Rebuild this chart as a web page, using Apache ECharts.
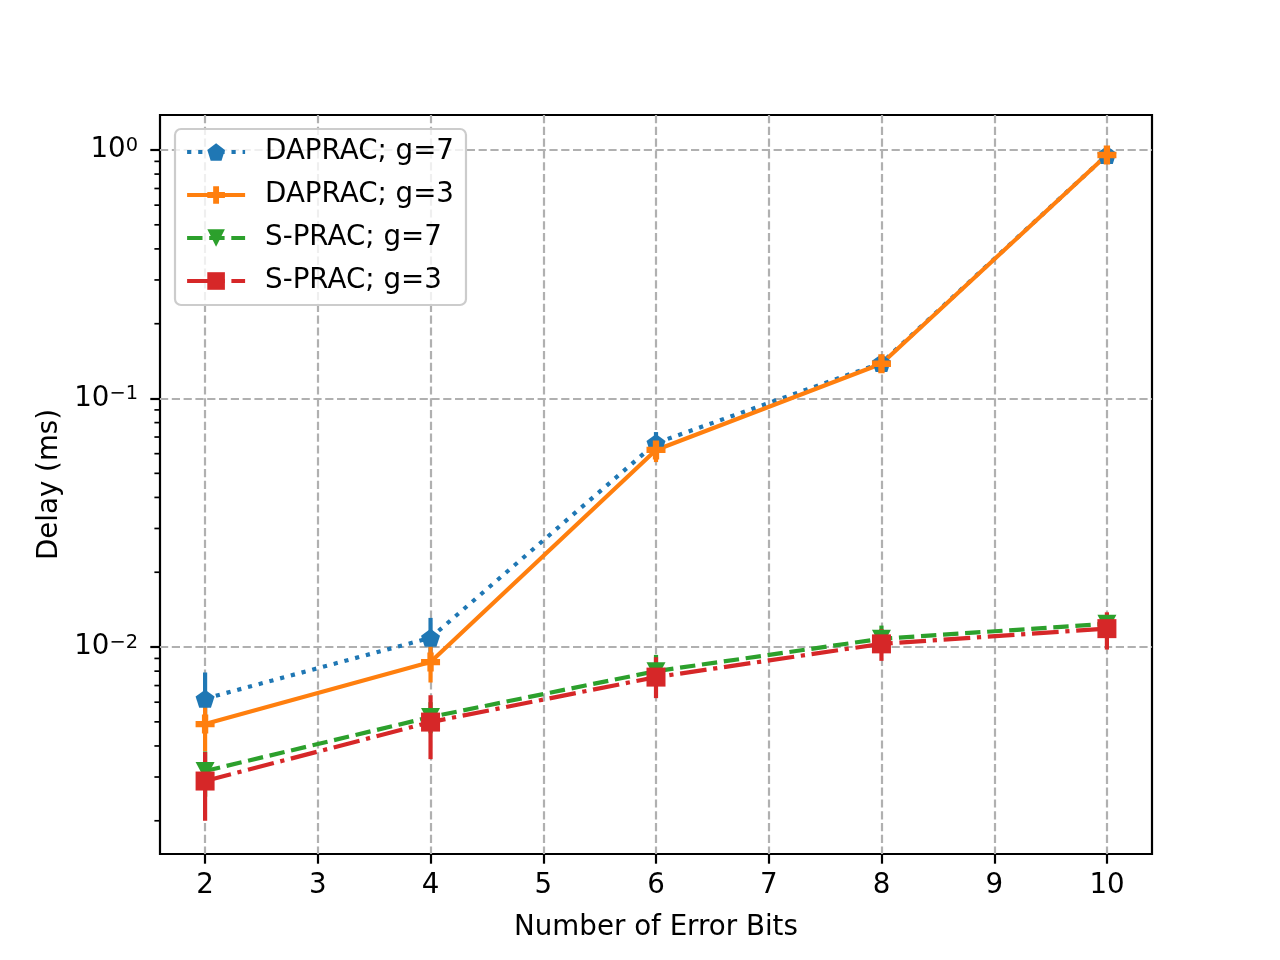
<!DOCTYPE html>
<html>
<head>
<meta charset="utf-8">
<script src="https://cdn.jsdelivr.net/npm/echarts@6/dist/echarts.min.js"></script>
<style>
  html, body { margin: 0; background: #fff; }
  #main { width: 1280px; height: 960px; }
</style>
</head>
<body>
<div id="main"></div>
<script>
// data
const errorBits = [2, 4, 6, 8, 10];

const dapracG7 = [0.0062, 0.0109, 0.0662, 0.139, 0.955];
const dapracG7Lo = [0.0046, 0.0088, 0.0595, 0.135, 0.93];
const dapracG7Hi = [0.0079, 0.0131, 0.0733, 0.143, 0.98];

const dapracG3 = [0.0049, 0.0087, 0.0621, 0.138, 0.955];
const dapracG3Lo = [0.0038, 0.0072, 0.0555, 0.134, 0.93];
const dapracG3Hi = [0.0060, 0.0102, 0.0690, 0.142, 0.98];

const spracG7 = [0.00317, 0.00523, 0.0080, 0.0108, 0.0124];
const spracG7Lo = [0.0025, 0.0045, 0.0070, 0.0097, 0.0116];
const spracG7Hi = [0.0038, 0.0060, 0.0093, 0.0122, 0.0132];

const spracG3 = [0.00289, 0.00499, 0.00757, 0.0103, 0.01186];
const spracG3Lo = [0.0020, 0.00354, 0.00623, 0.0088, 0.00977];
const spracG3Hi = [0.00378, 0.0064, 0.0091, 0.0118, 0.0138];

const names = ['DAPRAC; g=7', 'DAPRAC; g=3', 'S-PRAC; g=7', 'S-PRAC; g=3'];

// axis ranges and ticks
const xMin = 1.6, xMax = 10.4;
const yMin = 0.00147, yMax = 1.383;
const yMajorMin = 0.01, yMajorMax = 1;
const minorDecades = [0.001, 0.01, 0.1];
const minorSteps = [2, 3, 4, 5, 6, 7, 8, 9];

const FONT = 'DejaVu Sans';
const FS = 27.7;
const GRID_LINE = { show: true, lineStyle: { color: '#b0b0b0', width: 2.2, type: [8.2, 3.6] } };

// marker shapes (matplotlib p, P, v, s)
const PENTAGON = 'path://M0,-1L0.951,-0.309L0.588,0.809L-0.588,0.809L-0.951,-0.309Z';
const PLUS = 'path://M-1,-3L-1,-1L-3,-1L-3,1L-1,1L-1,3L1,3L1,1L3,1L3,-1L1,-1L1,-3Z';
const TRI_DOWN = 'path://M-1,-1L1,-1L0,1Z';

const chart = echarts.init(document.getElementById('main'));

function errorSeries(lo, hi, color) {
    return {
        type: 'custom', xAxisIndex: 0, yAxisIndex: 0, z: 1, silent: true,
        data: errorBits.map((x, i) => [x, lo[i], hi[i]]),
        encode: { x: 0, y: [1, 2] },
        renderItem: (params, api) => {
            const a = api.coord([api.value(0), api.value(1)]);
            const b = api.coord([api.value(0), api.value(2)]);
            return {
                type: 'line',
                shape: { x1: a[0], y1: a[1], x2: b[0], y2: b[1] },
                style: { stroke: color, lineWidth: 4.2 }
            };
        }
    };
}

function lineSeries(name, values, color, dash, symbol, size) {
    return {
        type: 'line', name: name, xAxisIndex: 0, yAxisIndex: 0, z: 2,
        data: errorBits.map((x, i) => [x, values[i]]),
        symbol: symbol, symbolSize: size, showAllSymbol: true,
        itemStyle: { color: color },
        lineStyle: { color: color, width: 4.2, type: dash, cap: 'butt' },
        emphasis: { disabled: true }
    };
}

const option = {
    animation: false,
    backgroundColor: '#fff',
    textStyle: { fontFamily: FONT },
    grid: [
        { left: 160, right: 128, top: 115, bottom: 106, show: true, borderColor: '#000', borderWidth: 2.2, backgroundColor: 'transparent' },
        { left: 205, right: 173, top: 115, bottom: 106 },
        { left: 160, right: 128, top: 150, bottom: 313 }
    ],
    xAxis: [
        { gridIndex: 0, type: 'value', min: xMin, max: xMax, axisLine: { show: false }, axisTick: { show: false }, axisLabel: { show: false }, splitLine: { show: false } },
        {
            gridIndex: 1, type: 'value', min: 2, max: 10, interval: 1,
            name: 'Number of Error Bits', nameLocation: 'middle', nameGap: 60,
            nameTextStyle: { fontFamily: FONT, fontSize: FS, color: '#000' },
            axisLine: { show: false },
            axisTick: { show: true, length: 9.7, lineStyle: { color: '#000', width: 2.2 } },
            axisLabel: { fontFamily: FONT, fontSize: FS, color: '#000', margin: 18 },
            splitLine: GRID_LINE
        },
        { gridIndex: 2, type: 'value', show: false }
    ],
    yAxis: [
        {
            gridIndex: 0, type: 'log', logBase: 10, min: yMin, max: yMax,
            name: 'Delay (ms)', nameLocation: 'middle', nameGap: 96,
            nameTextStyle: { fontFamily: FONT, fontSize: FS, color: '#000' },
            axisLine: { show: false }, axisTick: { show: false }, axisLabel: { show: false }, splitLine: { show: false }
        },
        { gridIndex: 1, type: 'value', show: false },
        {
            gridIndex: 2, type: 'log', logBase: 10, min: yMajorMin, max: yMajorMax,
            axisLine: { show: false },
            axisTick: { show: true, length: 9.7, lineStyle: { color: '#000', width: 2.2 } },
            axisLabel: {
                showMinLabel: true, showMaxLabel: true, margin: 22,
                fontFamily: FONT, fontSize: FS, color: '#000',
                formatter: v => {
                    const e = Math.round(Math.log10(v));
                    return '10{e|' + (e < 0 ? '\u2212' + (-e) : e) + '}';
                },
                rich: { e: { fontFamily: FONT, fontSize: 19.4, color: '#000', verticalAlign: 'top' } }
            },
            splitLine: GRID_LINE
        }
    ],
    legend: {
        orient: 'vertical', left: 175, top: 129,
        data: names, selectedMode: false,
        itemWidth: 58, itemHeight: 22, itemGap: 15,
        padding: [9, 12, 10, 10],
        lineStyle: { width: 4.2 },
        backgroundColor: 'rgba(255,255,255,0.8)',
        borderColor: '#cccccc', borderWidth: 2.2, borderRadius: 6,
        textStyle: { fontFamily: FONT, fontSize: FS, color: '#000', padding: [0, 0, 0, 15] }
    },
    series: [
        errorSeries(dapracG7Lo, dapracG7Hi, '#1f77b4'),
        errorSeries(dapracG3Lo, dapracG3Hi, '#ff7f0e'),
        errorSeries(spracG7Lo, spracG7Hi, '#2ca02c'),
        errorSeries(spracG3Lo, spracG3Hi, '#d62728'),
        lineSeries(names[0], dapracG7, '#1f77b4', [4.2, 6.9], PENTAGON, [19, 18]),
        lineSeries(names[1], dapracG3, '#ff7f0e', 'solid', PLUS, [19, 19]),
        lineSeries(names[2], spracG7, '#2ca02c', [15.4, 6.7], TRI_DOWN, [19, 18]),
        lineSeries(names[3], spracG3, '#d62728', [26.7, 6.7, 4.2, 6.7], 'rect', [19, 19])
    ]
};

chart.setOption(option);

// log minor ticks (2..9 x 10^k), placed through the y axis scale
const axisX = chart.convertToPixel({ xAxisIndex: 0 }, xMin);
const minorTicks = [];
minorDecades.forEach(d => {
    minorSteps.forEach(k => {
        const v = d * k;
        if (v < yMin || v > yMax) return;
        const py = chart.convertToPixel({ yAxisIndex: 0 }, v);
        minorTicks.push({
            type: 'line', silent: true,
            shape: { x1: axisX - 5.6, y1: py, x2: axisX, y2: py },
            style: { stroke: '#000', lineWidth: 1.7 }
        });
    });
});
chart.setOption({ graphic: minorTicks });
</script>
</body>
</html>
